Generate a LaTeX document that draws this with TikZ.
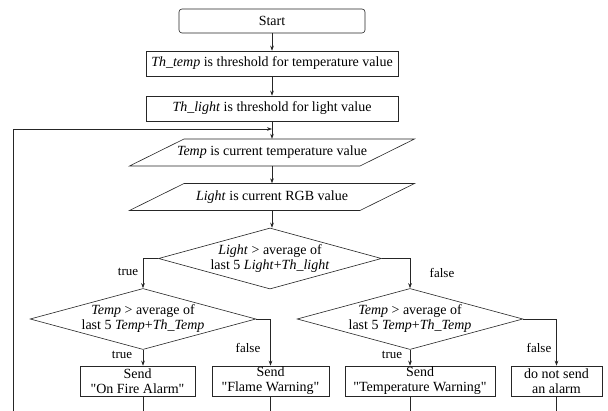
\documentclass[tikz,border=0pt]{standalone}
\usepackage{fontspec}
\setmainfont{Liberation Serif}[Ligatures=TeXOff]
\usetikzlibrary{shapes.geometric,arrows.meta,calc}
\begin{document}
\begin{tikzpicture}[x=1pt,y=-1pt,
  every node/.style={font=\fontsize{14}{15}\selectfont},
  ln/.style={draw=black!85, line width=0.6pt},
  arr/.style={ln, -{Stealth[length=5pt,width=3.6pt]}},
  startbox/.style={ln, rectangle, rounded corners=3pt, inner sep=0pt, minimum width=186pt, minimum height=24pt},
  proc/.style={ln, rectangle, inner sep=0pt, minimum width=252pt, minimum height=25pt},
  iotext/.style={rectangle, inner sep=0pt, minimum height=27pt},
  cond/.style={ln, diamond, shape aspect=3.7, inner sep=0pt, minimum width=225pt, minimum height=60pt, align=center},
  outbox/.style={ln, rectangle, inner sep=0pt, minimum height=30pt, align=center},
  lbl/.style={font=\fontsize{13}{14}\selectfont, inner sep=0pt}
]
\fill[white] (0,0) rectangle (608,411);
\useasboundingbox (0,0) rectangle (608,411);

% top chain
\node[startbox] (start) at (272,21) {Start};
\node[proc] (thT) at (272,63.5) {\textit{Th\_temp} is threshold for temperature value};
\node[proc] (thL) at (272,108.5) {\textit{Th\_light} is threshold for light value};

% parallelograms (input)
\node[iotext] (tmp) at (272,152.5) {\textit{Temp} is current temperature value};
\draw[ln] ($(tmp.center)+(-142.5,13.5)$) -- ($(tmp.center)+(-88,-13.5)$)
  -- ($(tmp.center)+(142.5,-13.5)$) -- ($(tmp.center)+(88,13.5)$) -- cycle;
\node[iotext] (lgt) at (272,197) {\textit{Light} is current RGB value};
\draw[ln] ($(lgt.center)+(-142.5,13.5)$) -- ($(lgt.center)+(-88,-13.5)$)
  -- ($(lgt.center)+(142.5,-13.5)$) -- ($(lgt.center)+(88,13.5)$) -- cycle;

% decisions
\node[cond, minimum width=223pt, minimum height=61pt] (d0) at (270,258.5)
  {\textit{Light} > average of\\last 5 \textit{Light}+\textit{Th\_light}};
\node[cond] (d1) at (143,319) {\textit{Temp} > average of\\last 5 \textit{Temp}+\textit{Th\_Temp}};
\node[cond] (d2) at (410,319) {\textit{Temp} > average of\\last 5 \textit{Temp}+\textit{Th\_Temp}};

% outputs
\node[outbox, minimum width=115pt] (b1) at (137.5,381) {Send\\"On Fire Alarm"};
\node[outbox, minimum width=117pt] (b2) at (270.5,381) {Send\\"Flame Warning"};
\node[outbox, minimum width=150pt] (b3) at (420,381) {Send\\"Temperature Warning"};
\node[outbox, minimum width=91pt] (b4) at (556.5,381) {do not send\\an alarm};

% connectors
\draw[arr] (start.south -| thT.north) -- (thT.north);
\draw[arr] (thT.south) -- (thL.north);
\draw[arr] (thL.south) -- (tmp.north);
\draw[arr] (tmp.south) -- (lgt.north);
\draw[arr] (lgt.south) -- (lgt.south |- d0.north);
\draw[arr] (d0.west) -| (d1.north);
\draw[arr] (d0.east) -| (d2.north);
\draw[arr] (d1.south) -- (d1.south |- b1.north);
\draw[arr] (d1.east) -| (b2.north);
\draw[arr] (d2.south) -- (d2.south |- b3.north);
\draw[arr] (d2.east) -| (b4.north);

% lines leaving the picture at the bottom
\coordinate (e1) at (143,411);
\coordinate (e2) at (270.5,411);
\coordinate (e3) at (410,411);
\coordinate (e4) at (556.5,411);
\draw[ln] (e1 |- b1.south) -- (e1);
\draw[ln] (e2 |- b2.south) -- (e2);
\draw[ln] (e3 |- b3.south) -- (e3);
\draw[ln] (e4 |- b4.south) -- (e4);

% loop back
\coordinate (loopS) at (13,411);
\coordinate (loopT) at (13,129);
\draw[arr] (loopS) -- (loopT) -- (loopT -| thL.south);

% branch labels
\node[lbl] (l0t) at (128,272) {true};
\node[lbl] (l0f) at (442,273) {false};
\node[lbl] (l1t) at (122,355) {true};
\node[lbl] (l1f) at (248,348) {false};
\node[lbl] (l2t) at (392,355) {true};
\node[lbl] (l2f) at (539,348) {false};
\end{tikzpicture}
\end{document}
